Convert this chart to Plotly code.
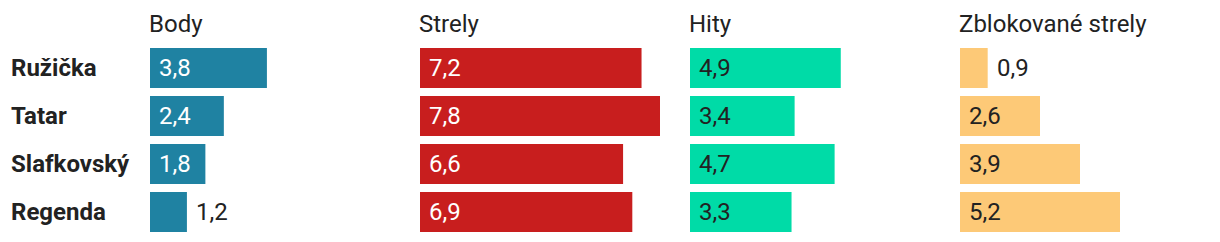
import plotly.graph_objects as go

players = ["Ružička", "Tatar", "Slafkovský", "Regenda"]
panel_titles = ["Body", "Strely", "Hity", "Zblokované strely"]
body = [3.8, 2.4, 1.8, 1.2]
strely = [7.2, 7.8, 6.6, 6.9]
hity = [4.9, 3.4, 4.7, 3.3]
zblokovane = [0.9, 2.6, 3.9, 5.2]

series = [body, strely, hity, zblokovane]
colors = ["#1f82a2", "#c81e1e", "#00dba7", "#fdc977"]
inside_text_colors = ["#ffffff", "#ffffff", "#222222", "#222222"]

W, H = 1220, 242
panel_left = [150, 420, 690, 960]
panel_w = 240
xmax = 7.8
FONT = "Roboto"
DARK = "#222222"
FS = 24

fig = go.Figure()
annotations = []
for i, (vals, title) in enumerate(zip(series, panel_titles)):
    ax = "" if i == 0 else str(i + 1)
    fig.add_trace(go.Bar(
        x=vals, y=players, orientation="h",
        marker=dict(color=colors[i], line=dict(width=0)),
        xaxis="x" + ax, yaxis="y", hoverinfo="skip", showlegend=False,
    ))
    d0 = panel_left[i] / W
    d1 = (panel_left[i] + panel_w) / W
    fig.update_layout(**{
        "xaxis" + ax: dict(domain=[d0, d1], range=[0, xmax], visible=False,
                           fixedrange=True)
    })
    annotations.append(dict(
        text=title, x=d0, xref="paper", xanchor="left", xshift=-3,
        y=1 - 24 / H, yref="paper", yanchor="middle", showarrow=False,
        font=dict(family=FONT, size=FS, color=DARK),
    ))
    for p, v in zip(players, vals):
        label = f"{v:.1f}".replace(".", ",")
        outside = v < 1.5
        annotations.append(dict(
            text=label,
            x=v if outside else 0, xref="x" + ax, xanchor="left", xshift=7,
            y=p, yref="y", yanchor="middle", showarrow=False,
            font=dict(family=FONT, size=FS,
                      color=DARK if outside else inside_text_colors[i]),
        ))

for p in players:
    annotations.append(dict(
        text=f"<b>{p}</b>", x=12 / W, xref="paper", xanchor="left", xshift=-3,
        y=p, yref="y", yanchor="middle", showarrow=False,
        font=dict(family=FONT, size=FS, color=DARK),
    ))

fig.update_layout(
    width=W, height=H,
    margin=dict(l=0, r=0, t=0, b=0),
    paper_bgcolor="white", plot_bgcolor="white",
    bargap=1 / 6,
    yaxis=dict(domain=[6 / H, 198 / H], autorange="reversed", visible=False,
               categoryorder="array", categoryarray=players, fixedrange=True),
    annotations=annotations,
    font=dict(family=FONT),
)

fig.write_html("out.html", config={"displayModeBar": False})
